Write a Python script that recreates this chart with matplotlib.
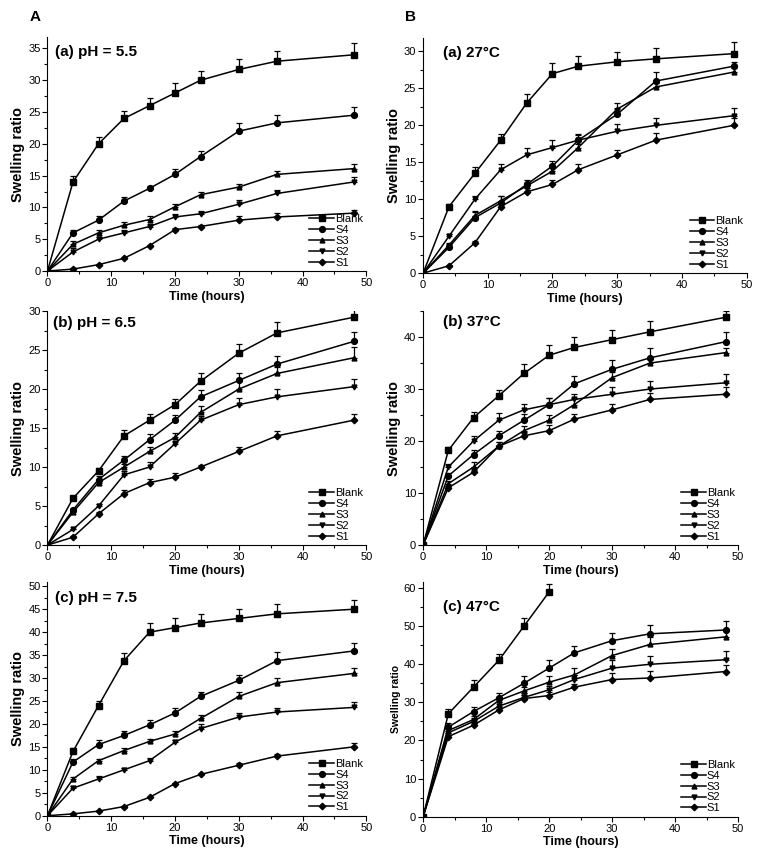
import matplotlib
matplotlib.use("Agg")
import matplotlib.pyplot as plt
from matplotlib.ticker import MultipleLocator

plt.rcParams['font.family'] = ['Liberation Sans', 'DejaVu Sans']

# =========================
# DATA
# =========================
t = [0, 4, 8, 12, 16, 20, 24, 30, 36, 48]
t_blank_47 = [0, 4, 8, 12, 16, 20]
series = ["Blank", "S4", "S3", "S2", "S1"]

# pH = 5.5
ph55_blank = [0, 14, 20, 24, 26, 28, 30, 31.7, 33, 34]
ph55_blank_err = [0, 0.9, 1.0, 1.2, 1.2, 1.5, 1.5, 1.7, 1.6, 1.8]
ph55_s4 = [0, 6, 8, 11, 13, 15.2, 18, 22, 23.3, 24.5]
ph55_s4_err = [0, 0.4, 0.6, 0.6, 0.3, 0.8, 0.9, 1.2, 1.3, 1.3]
ph55_s3 = [0, 4.2, 6, 7.2, 8.1, 10.1, 12, 13.2, 15.2, 16.1]
ph55_s3_err = [0, 0.5, 0.4, 0.5, 0.5, 0.4, 0.4, 0.5, 0.5, 0.7]
ph55_s2 = [0, 3, 5, 6, 7, 8.5, 9, 10.5, 12.2, 14]
ph55_s2_err = [0, 0.6, 0.4, 0.4, 0.4, 0.4, 0.5, 0.6, 0.5, 0.8]
ph55_s1 = [0, 0.3, 1, 2, 4, 6.5, 7, 8, 8.5, 9.1]
ph55_s1_err = [0, 0.1, 0.1, 0.1, 0.1, 0.3, 0.3, 0.6, 0.6, 0.5]

# pH = 6.5
ph65_blank = [0, 6, 9.5, 14, 16, 18, 21, 24.6, 27.2, 29.2]
ph65_blank_err = [0, 0.3, 0.4, 0.7, 0.8, 0.7, 1.0, 1.2, 1.4, 1.0]
ph65_s4 = [0, 4.5, 8.4, 10.9, 13.5, 16, 19, 21.1, 23.2, 26.1]
ph65_s4_err = [0, 0.3, 0.5, 0.5, 0.7, 0.7, 0.9, 1.0, 1.0, 1.2]
ph65_s3 = [0, 4.2, 8, 10, 12, 13.8, 17, 20, 22, 24]
ph65_s3_err = [0, 0.2, 0.4, 0.4, 0.6, 0.6, 0.8, 1.0, 0.8, 1.4]
ph65_s2 = [0, 2, 5, 9, 10, 13, 16, 18, 19, 20.3]
ph65_s2_err = [0, 0.1, 0.2, 0.5, 0.6, 0.4, 0.6, 0.9, 1.0, 1.0]
ph65_s1 = [0, 1, 4, 6.6, 8, 8.7, 10, 12, 14, 16]
ph65_s1_err = [0, 0.1, 0.2, 0.4, 0.5, 0.5, 0.3, 0.6, 0.6, 0.8]

# pH = 7.5
ph75_blank = [0, 14, 24, 33.8, 40, 41, 42, 43, 44, 45]
ph75_blank_err = [0, 0.8, 0.9, 1.6, 2.0, 2.0, 2.0, 2.0, 2.1, 2.1]
ph75_s4 = [0, 11.7, 15.5, 17.5, 19.8, 22.4, 26, 29.5, 33.8, 35.9]
ph75_s4_err = [0, 0.6, 0.9, 0.9, 1.1, 1.1, 1.0, 1.1, 1.8, 1.8]
ph75_s3 = [0, 8, 12, 14.2, 16.2, 17.8, 21.2, 26, 29, 31]
ph75_s3_err = [0, 0.4, 0.4, 0.5, 0.6, 0.7, 0.7, 0.9, 1.1, 1.3]
ph75_s2 = [0, 6, 8, 10, 12, 16, 19, 21.5, 22.6, 23.6]
ph75_s2_err = [0, 0.5, 0.6, 0.5, 0.6, 0.6, 1.0, 0.9, 0.9, 1.1]
ph75_s1 = [0, 0.4, 1, 2, 4, 7, 9, 11, 13, 15]
ph75_s1_err = [0, 0.1, 0.1, 0.1, 0.1, 0.1, 0.1, 0.5, 0.5, 0.8]

# 27 C
c27_blank = [0, 9, 13.5, 18, 23, 27, 28, 28.6, 29, 29.7]
c27_blank_err = [0, 0.4, 0.8, 0.8, 1.2, 1.5, 1.4, 1.3, 1.5, 1.6]
c27_s4 = [0, 3.5, 7.5, 9.5, 12, 14.5, 18, 21.5, 26, 28]
c27_s4_err = [0, 0.4, 0.8, 1.0, 0.6, 0.7, 0.7, 0.8, 1.2, 0.6]
c27_s3 = [0, 3.8, 7.8, 9.8, 11.8, 13.8, 17, 22.2, 25.2, 27.2]
c27_s3_err = [0, 0.3, 0.6, 0.6, 0.4, 0.5, 0.5, 0.8, 0.5, 0.5]
c27_s2 = [0, 5, 10, 14, 16, 17, 18, 19.2, 20, 21.3]
c27_s2_err = [0, 0.3, 0.5, 0.8, 1.0, 1.0, 0.8, 1.0, 1.0, 1.1]
c27_s1 = [0, 1, 4.1, 9, 11, 12, 14, 16, 18, 20]
c27_s1_err = [0, 0.1, 0.2, 0.3, 0.5, 0.6, 0.8, 0.7, 1.0, 1.0]

# 37 C
c37_blank = [0, 18.2, 24.5, 28.7, 33, 36.5, 38, 39.5, 41, 43.8]
c37_blank_err = [0, 0.6, 1.0, 1.1, 1.8, 2.0, 2.0, 1.8, 2.0, 1.3]
c37_s4 = [0, 13.3, 17.4, 21, 24, 27, 31, 33.8, 36, 39.1]
c37_s4_err = [0, 0.6, 0.9, 1.0, 1.2, 1.2, 1.5, 1.8, 1.8, 1.8]
c37_s3 = [0, 11.8, 15, 19, 22, 24, 27, 32.2, 35, 37]
c37_s3_err = [0, 0.5, 1.0, 0.9, 0.9, 1.0, 1.2, 1.0, 0.8, 0.8]
c37_s2 = [0, 15, 20, 24, 26, 27, 28, 29, 30, 31.2]
c37_s2_err = [0, 0.5, 1.0, 1.3, 1.2, 1.2, 1.0, 1.3, 1.5, 1.6]
c37_s1 = [0, 11, 14, 19, 21, 22, 24.2, 26, 28, 29]
c37_s1_err = [0, 0.3, 0.5, 0.8, 0.7, 1.0, 1.0, 1.2, 1.3, 1.3]

# 47 C
c47_blank = [0, 27, 34, 41, 50, 59]
c47_blank_err = [0, 1.2, 1.8, 1.8, 2.2, 2.0]
c47_s4 = [0, 23.5, 27.6, 31.2, 35, 39, 43, 46.2, 48, 49]
c47_s4_err = [0, 1.0, 1.2, 1.2, 2.0, 2.0, 1.8, 2.0, 2.3, 2.3]
c47_s3 = [0, 22.6, 25.5, 30.5, 33, 35.3, 37.2, 42.3, 45.2, 47.2]
c47_s3_err = [0, 1.0, 0.8, 1.0, 1.0, 1.5, 1.7, 1.6, 2.0, 2.0]
c47_s2 = [0, 22, 25, 29, 31.3, 33.3, 36, 39, 40, 41.2]
c47_s2_err = [0, 0.9, 1.0, 1.0, 1.2, 1.0, 1.2, 2.0, 2.2, 2.2]
c47_s1 = [0, 21, 24, 28, 31, 31.8, 34, 36, 36.4, 38.1]
c47_s1_err = [0, 0.5, 0.6, 0.7, 1.0, 1.0, 0.8, 1.8, 1.8, 1.8]

markers = {"Blank": ("s", 4), "S4": ("o", 4.2), "S3": ("^", 3.5),
           "S2": ("v", 3.5), "S1": ("D", 3.3)}


# =========================
# PANEL FUNCTION
# =========================
def panel(rect, title, title_xy, curves, ymax, ymaj, ymin_step, ylab_size=10.5):
    ax = fig.add_axes(rect)
    handles = []
    for name, (x, y, e) in zip(series, curves):
        m, ms = markers[name]
        h, = ax.plot(x, y, color="black", lw=1.1, marker=m, ms=ms, label=name)
        ax.errorbar(x, y, yerr=[[0] * len(e), e], fmt="none", ecolor="black",
                    elinewidth=0.9, capsize=2.5, capthick=0.9)
        handles.append(h)
    ax.set_xlim(0, 50)
    ax.set_ylim(0, ymax)
    ax.xaxis.set_major_locator(MultipleLocator(10))
    ax.xaxis.set_minor_locator(MultipleLocator(5))
    ax.yaxis.set_major_locator(MultipleLocator(ymaj))
    ax.yaxis.set_minor_locator(MultipleLocator(ymin_step))
    for s in ["top", "right"]:
        ax.spines[s].set_visible(False)
    ax.tick_params(which="major", direction="out", length=3.5, width=0.8, labelsize=8, pad=1.5)
    ax.tick_params(which="minor", direction="out", length=2, width=0.8)
    ax.set_xlabel("Time (hours)", fontsize=9, fontweight="bold", labelpad=2)
    ax.set_ylabel("Swelling ratio", fontsize=ylab_size, fontweight="bold", labelpad=2)
    ax.text(title_xy[0], title_xy[1], title, transform=ax.transAxes, fontsize=11,
            fontweight="bold", va="center", ha="left")
    ax.legend(handles=handles, loc="lower right", frameon=False, fontsize=8,
              handlelength=2.2, handletextpad=0.1, labelspacing=0.08,
              borderaxespad=0.2, borderpad=0.1)
    return ax


fig = plt.figure(figsize=(7.61, 8.59), dpi=100)

wA = 0.419
wB = 0.414
h = 0.2724
panel([0.0624, 0.6845, wA, h], "(a) pH = 5.5", (0.024, 0.936),
      [(t, ph55_blank, ph55_blank_err), (t, ph55_s4, ph55_s4_err), (t, ph55_s3, ph55_s3_err),
       (t, ph55_s2, ph55_s2_err), (t, ph55_s1, ph55_s1_err)], 36.8, 5, 2.5)
panel([0.0624, 0.3655, wA, h], "(b) pH = 6.5", (0.018, 0.949),
      [(t, ph65_blank, ph65_blank_err), (t, ph65_s4, ph65_s4_err), (t, ph65_s3, ph65_s3_err),
       (t, ph65_s2, ph65_s2_err), (t, ph65_s1, ph65_s1_err)], 30, 5, 2.5)
panel([0.0624, 0.0504, wA, h], "(c) pH = 7.5", (0.024, 0.93),
      [(t, ph75_blank, ph75_blank_err), (t, ph75_s4, ph75_s4_err), (t, ph75_s3, ph75_s3_err),
       (t, ph75_s2, ph75_s2_err), (t, ph75_s1, ph75_s1_err)], 51, 5, 2.5)
panel([0.556, 0.682, 0.425, 0.2736], "(a) 27°C", (0.062, 0.936),
      [(t, c27_blank, c27_blank_err), (t, c27_s4, c27_s4_err), (t, c27_s3, c27_s3_err),
       (t, c27_s2, c27_s2_err), (t, c27_s1, c27_s1_err)], 31.8, 5, 2.5)
panel([0.556, 0.3655, wB, h], "(b) 37°C", (0.062, 0.953),
      [(t, c37_blank, c37_blank_err), (t, c37_s4, c37_s4_err), (t, c37_s3, c37_s3_err),
       (t, c37_s2, c37_s2_err), (t, c37_s1, c37_s1_err)], 45, 10, 5)
panel([0.556, 0.0493, wB, 0.2736], "(c) 47°C", (0.062, 0.892),
      [(t_blank_47, c47_blank, c47_blank_err), (t, c47_s4, c47_s4_err), (t, c47_s3, c47_s3_err),
       (t, c47_s2, c47_s2_err), (t, c47_s1, c47_s1_err)], 61.7, 10, 5, ylab_size=7.5)

fig.text(30 / 761, 1 - 17 / 859, "A", fontsize=11, fontweight="bold", va="center")
fig.text(405 / 761, 1 - 17 / 859, "B", fontsize=11, fontweight="bold", va="center")

fig.savefig("out.png", dpi=100)
